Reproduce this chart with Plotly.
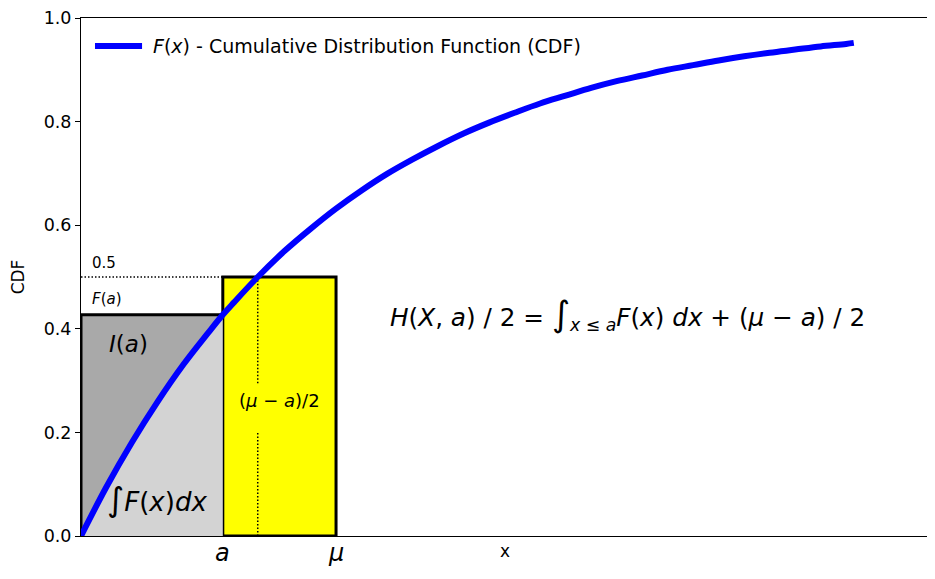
import plotly.graph_objects as go

# Curve values (x in arbitrary units, F = CDF)
x_curve = [0.0, 0.1, 0.2, 0.3, 0.4, 0.5, 0.556, 0.6, 0.693, 0.8, 0.9, 1.0,
           1.1, 1.2, 1.3, 1.4, 1.5, 1.6, 1.7, 1.8, 1.9, 2.0, 2.1, 2.2, 2.3,
           2.4, 2.5, 2.6, 2.7, 2.8, 2.9, 3.0, 3.03]
f_curve = [0.000, 0.095, 0.181, 0.259, 0.330, 0.393, 0.427, 0.451, 0.500, 0.551,
           0.593, 0.632, 0.667, 0.699, 0.727, 0.753, 0.777, 0.798, 0.817, 0.835,
           0.850, 0.865, 0.878, 0.889, 0.900, 0.909, 0.918, 0.926, 0.933, 0.939,
           0.945, 0.950, 0.952]

a_val = 0.556
mu_val = 1.0
median_val = 0.693
F_a = 0.427
half = 0.5
dotted_gap = [0.20, 0.295]

y_ticks = [0.0, 0.2, 0.4, 0.6, 0.8, 1.0]
x_range = [0.0, 3.325]

FONT = "DejaVu Sans"
legend_text = "<i>F</i>(<i>x</i>) - Cumulative Distribution Function (CDF)"

fig = go.Figure()

# light gray area under the curve up to a
xs_fill = [x for x in x_curve if x <= a_val]
fs_fill = [f for x, f in zip(x_curve, f_curve) if x <= a_val]
fig.add_trace(go.Scatter(x=xs_fill, y=fs_fill, mode="lines", fill="tozeroy",
                         fillcolor="#d3d3d3", line=dict(width=0, color="#d3d3d3"),
                         line_shape="spline", showlegend=False, hoverinfo="skip"))

# CDF curve
fig.add_trace(go.Scatter(x=x_curve, y=f_curve, mode="lines", line_shape="spline",
                         line=dict(color="#0000ff", width=6),
                         name="F(x) - Cumulative Distribution Function (CDF)",
                         showlegend=False))

# dark gray rectangle (I(a) region)
fig.add_shape(type="rect", x0=0, x1=a_val, y0=0, y1=F_a, fillcolor="#a9a9a9",
              line=dict(color="black", width=3), layer="below")
# yellow rectangle
fig.add_shape(type="rect", x0=a_val, x1=mu_val, y0=0, y1=half, fillcolor="#ffff00",
              line=dict(color="black", width=3), layer="below")
# dotted lines
DOT = "1.5px,2px"
fig.add_shape(type="line", x0=0, x1=median_val, y0=half, y1=half,
              line=dict(color="black", width=1.5, dash=DOT), layer="below")
fig.add_shape(type="line", x0=median_val, x1=median_val, y0=0, y1=dotted_gap[0],
              line=dict(color="black", width=1.5, dash=DOT), layer="below")
fig.add_shape(type="line", x0=median_val, x1=median_val, y0=dotted_gap[1], y1=half,
              line=dict(color="black", width=1.5, dash=DOT), layer="below")

# custom legend (line sample + text)
fig.add_shape(type="line", xref="paper", yref="paper", x0=0.0165, x1=0.072,
              y0=0.946, y1=0.946, line=dict(color="#0000ff", width=6))
fig.add_annotation(xref="paper", yref="paper", x=0.083, y=0.946, text=legend_text,
                   showarrow=False, xanchor="left", yanchor="middle",
                   font=dict(family=FONT, size=19, color="black"))

def txt(x, y, s, size, xanchor="left", yanchor="middle", yref="y"):
    fig.add_annotation(x=x, y=y, text=s, showarrow=False, xanchor=xanchor,
                       yanchor=yanchor, yref=yref,
                       font=dict(family=FONT, size=size, color="black"))

txt(0.035, 0.527, "0.5", 15)
txt(0.035, 0.457, "<i>F</i>(<i>a</i>)", 15)
txt(0.1, 0.37, "<i>I</i>(<i>a</i>)", 23)
txt(0.095, 0.07, "<span style='font-size:33px'>∫</span><i>F</i>(<i>x</i>)<i>dx</i>", 26)
txt((a_val + mu_val) / 2, 0.262, "(<i>μ</i> − <i>a</i>)/2", 18, xanchor="center")
txt(2.141, 0.427,
    "<i>H</i>(<i>X</i>, <i>a</i>) / 2 = <span style='font-size:35px'>∫</span>"
    "<sub><i>x</i> ≤ <i>a</i></sub><i>F</i>(<i>x</i>) <i>dx</i> + (<i>μ</i> − <i>a</i>) / 2",
    24.7, xanchor="center")
txt(a_val, -0.033, "<i>a</i>", 24, xanchor="center", yref="paper")
txt(mu_val, -0.033, "<i>μ</i>", 24, xanchor="center", yref="paper")

# the page adds an 8px body margin; size/margins compensate for it
fig.update_layout(
    width=927, height=571,
    margin=dict(l=73, r=6, t=10, b=43),
    paper_bgcolor="white", plot_bgcolor="white",
    font=dict(family=FONT, size=17, color="black"),
    showlegend=False,
    xaxis=dict(range=x_range, showticklabels=False, ticks="", showgrid=False,
               zeroline=False, showline=True, linecolor="black", linewidth=1,
               mirror=True, automargin=False,
               title=dict(text="x", standoff=9, font=dict(size=17, family=FONT))),
    yaxis=dict(range=[0, 1], tickvals=y_ticks, tickformat=".1f", ticks="outside",
               ticklen=5, tickcolor="black", showgrid=False, zeroline=False,
               showline=True, linecolor="black", linewidth=1, mirror=True,
               automargin=False, tickfont=dict(size=17.5, family=FONT),
               title=dict(text="CDF", standoff=16, font=dict(size=17, family=FONT))),
)

fig.write_html("out.html")
